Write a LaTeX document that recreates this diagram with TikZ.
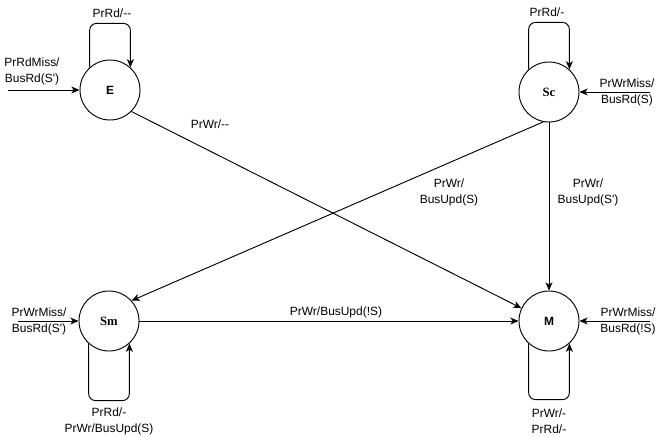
\documentclass[tikz,border=0pt]{standalone}
\usepackage{fontspec}
\setmainfont{Liberation Sans}
\newfontfamily\stateserif{Liberation Serif}
\usetikzlibrary{arrows.meta}

\tikzset{
  state/.style={circle, draw, thick, minimum size=1.8cm, inner sep=0pt,
    font=\fontsize{10.2}{12}\selectfont\bfseries},
  serifstate/.style={state, font=\fontsize{10.8}{12}\selectfont\stateserif\bfseries},
  edge/.style={thick, -{Stealth[length=7pt,width=6pt,inset=2pt]}},
  selfloop/.style={edge, rounded corners=6pt},
  lbl/.style={align=center, inner sep=0pt, font=\fontsize{10.2}{13.6}\selectfont}
}

\begin{document}
\begin{tikzpicture}[x=0.03cm, y=-0.03cm]
\useasboundingbox (0,0) rectangle (659,436);

% States
\node[state] (E) at (110,90) {E};
\node[serifstate] (Sc) at (549,92) {Sc};
\node[serifstate] (Sm) at (109,321) {Sm};
\node[state] (M) at (549,321) {M};

% Entry points
\coordinate (inE) at (8,90);
\coordinate (inSc) at (650,92);
\coordinate (inSm) at (18,321);
\coordinate (inM) at (650,321);

% Entry arrows
\draw[edge] (inE) -- (E);
\draw[edge] (inSc) -- (Sc);
\draw[edge] (inSm) -- (Sm);
\draw[edge] (inM) -- (M);

% Self loops
\draw[selfloop] (E.132) -- ++(0,-44) -| (E.48);
\draw[selfloop] (Sc.132) -- ++(0,-47) -| (Sc.48);
\draw[selfloop] (Sm.228) -- ++(0,57) -| (Sm.312);
\draw[selfloop] (M.228) -- ++(0,56) -| (M.312);

% Transitions
\draw[edge] (E.-45) -- (M.155);
\draw[edge] (Sc.259) -- (Sm.42);
\draw[edge] (Sc) -- (M);
\draw[edge] (Sm) -- (M);

% Labels
\node[lbl] (lE) at (112,13) {PrRd/-{}-};
\node[lbl] (lSc) at (547,12) {PrRd/-};
\node[lbl] (lSm) at (109,421) {PrRd/-\\PrWr/BusUpd(S)};
\node[lbl] (lM) at (549,421) {PrWr/-\\PrRd/-};

\node[lbl] (linE) at (32,71) {PrRdMiss/\\BusRd(S\textquotesingle)};
\node[lbl] (linSc) at (627,92) {PrWrMiss/\\BusRd(S)};
\node[lbl] (linSm) at (39,321) {PrWrMiss/\\BusRd(S\textquotesingle)};
\node[lbl] (linM) at (628,321) {PrWrMiss/\\BusRd(!S)};

\node[lbl] (lEM) at (210,124) {PrWr/-{}-};
\node[lbl] (lScSm) at (449,192) {PrWr/\\BusUpd(S)};
\node[lbl] (lScM) at (588,192) {PrWr/\\BusUpd(S\textquotesingle)};
\node[lbl] (lSmM) at (336,312) {PrWr/BusUpd(!S)};

\end{tikzpicture}
\end{document}
